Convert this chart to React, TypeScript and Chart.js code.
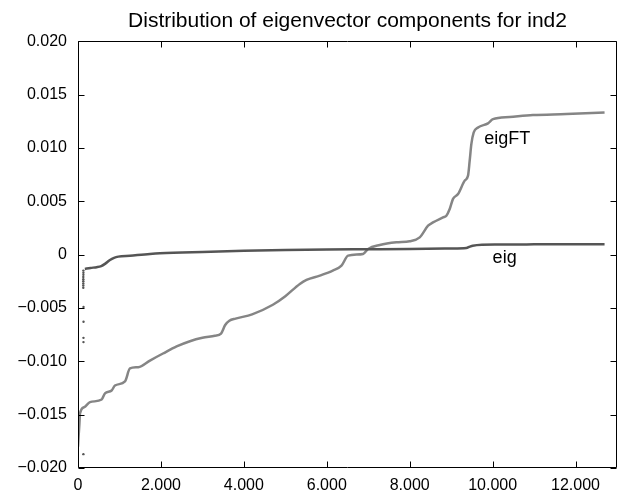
import React, { useEffect, useRef } from "react";
import { Chart, registerables } from "chart.js";

Chart.register(...registerables);

const titleText = "Distribution of eigenvector components for ind2";

const xTickValues = [0, 2000, 4000, 6000, 8000, 10000, 12000];
const xTickLabels = ["0", "2,000", "4,000", "6,000", "8,000", "10,000", "12,000"];
const yTickValues = [-0.02, -0.015, -0.01, -0.005, 0, 0.005, 0.01, 0.015, 0.02];
const yTickLabels = ["\u22120.020", "\u22120.015", "\u22120.010", "\u22120.005", "0", "0.005", "0.010", "0.015", "0.020"];

const eigFTIndex = [0, 15, 35, 48, 150, 289, 571, 651, 812, 892, 1133, 1253, 1454, 1735, 2050, 2378, 2700, 3000, 3300, 3450, 3550, 3650, 3800, 4200, 4700, 5000, 5350, 5511, 5832, 6145, 6355, 6515, 6876, 6997, 7278, 7680, 8000, 8242, 8443, 8563, 8804, 8885, 8965, 9045, 9166, 9327, 9407, 9447, 9488, 9544, 9648, 9889, 10009, 10411, 10973, 11777, 12700];
const eigFTValues = [-0.018, -0.017, -0.0158, -0.0149, -0.0143, -0.01383, -0.01358, -0.013, -0.01273, -0.01227, -0.01189, -0.01067, -0.01055, -0.00993, -0.00927, -0.00861, -0.00812, -0.0078, -0.0076, -0.0074, -0.0066, -0.0062, -0.006, -0.0056, -0.0047, -0.0039, -0.00275, -0.00237, -0.00197, -0.0015, -0.00103, -0.0001, 0.00006, 0.00053, 0.0009, 0.00115, 0.00125, 0.00162, 0.00271, 0.00302, 0.00349, 0.00365, 0.00428, 0.00522, 0.00568, 0.00693, 0.0074, 0.0088, 0.01037, 0.01145, 0.01192, 0.0123, 0.0127, 0.0129, 0.01308, 0.01317, 0.01332];

const eigIndex = [165, 300, 450, 560, 651, 771, 870, 972, 1253, 1735, 1976, 3000, 4000, 5000, 6000, 7000, 8000, 9000, 9367, 9450, 9520, 10170, 11000, 12000, 12700];
const eigValues = [-0.00134, -0.00125, -0.00118, -0.00108, -0.00087, -0.0005, -0.0003, -0.00019, -0.0001, 0.00006, 0.00012, 0.00025, 0.00035, 0.00042, 0.00047, 0.0005, 0.00053, 0.00057, 0.00062, 0.00075, 0.00084, 0.00094, 0.00096, 0.00097, 0.00098];

const eigOutlierIndex = [130, 132, 132, 133, 133, 128, 128, 128, 128, 128, 128, 130, 130, 130];
const eigOutlierValues = [-0.0187, -0.0082, -0.0078, -0.0063, -0.0049, -0.0031, -0.0029, -0.0027, -0.0025, -0.0023, -0.0021, -0.0019, -0.0017, -0.0015];

const seriesLabels = ["eigFT", "eig"];

const FONT = "'Liberation Sans', Arial, Helvetica, sans-serif";

export default function App() {
  const ref = useRef<HTMLCanvasElement>(null);

  useEffect(() => {
    document.body.style.margin = "0";
    const canvas = ref.current;
    if (!canvas) return;

    const framePlugin = {
      id: "frameAndLabels",
      afterDraw(chart: any) {
        const { ctx, chartArea: a, scales } = chart;
        const xs = scales.x;
        const ys = scales.y;
        const L = Math.round(a.left) + 0.5;
        const R = Math.round(a.right) - 0.5;
        const T = Math.round(a.top) + 0.5;
        const B = Math.round(a.bottom) - 0.5;
        const tl = 6;
        ctx.save();
        ctx.strokeStyle = "#000";
        ctx.lineWidth = 1;
        ctx.beginPath();
        ctx.rect(L, T, R - L, B - T);
        xTickValues.forEach((v) => {
          const px = Math.round(xs.getPixelForValue(v)) + 0.5;
          ctx.moveTo(px, B);
          ctx.lineTo(px, B - tl);
          ctx.moveTo(px, T);
          ctx.lineTo(px, T + tl);
        });
        yTickValues.forEach((v) => {
          const py = Math.round(ys.getPixelForValue(v)) + 0.5;
          ctx.moveTo(L, py);
          ctx.lineTo(L + tl, py);
          ctx.moveTo(R, py);
          ctx.lineTo(R - tl, py);
        });
        ctx.stroke();

        ctx.fillStyle = "#000";
        ctx.font = `18px ${FONT}`;
        ctx.textAlign = "left";
        ctx.textBaseline = "middle";
        ctx.fillText(seriesLabels[0], xs.getPixelForValue(9800), ys.getPixelForValue(0.01086));
        ctx.fillText(seriesLabels[1], xs.getPixelForValue(10000), ys.getPixelForValue(-0.0003));
        ctx.restore();
      },
    };

    const chart = new Chart(canvas, {
      type: "line",
      data: {
        datasets: [
          {
            label: seriesLabels[1],
            data: eigIndex.map((x, i) => ({ x, y: eigValues[i] })),
            borderColor: "#555555",
            borderWidth: 2.5,
            pointRadius: 0,
            cubicInterpolationMode: "monotone",
            fill: false,
          },
          {
            label: seriesLabels[1] + " outliers",
            data: eigOutlierIndex.map((x, i) => ({ x, y: eigOutlierValues[i] })),
            showLine: false,
            pointRadius: 1.2,
            pointBackgroundColor: "#555555",
            pointBorderWidth: 0,
            borderColor: "#555555",
          },
          {
            label: seriesLabels[0],
            data: eigFTIndex.map((x, i) => ({ x, y: eigFTValues[i] })),
            borderColor: "#858585",
            borderWidth: 2.5,
            pointRadius: 0,
            cubicInterpolationMode: "monotone",
            fill: false,
          },
        ],
      },
      options: {
        animation: false,
        responsive: false,
        devicePixelRatio: 1,
        layout: { padding: { left: 0, right: 1, top: 0, bottom: 0 } },
        plugins: {
          legend: { display: false },
          tooltip: { enabled: false },
          title: {
            display: true,
            text: titleText,
            fullSize: false,
            color: "#000",
            font: { family: FONT, size: 21, weight: "normal" },
            padding: { top: 9, bottom: 7 },
          },
        },
        scales: {
          x: {
            type: "linear",
            min: 0,
            max: 13000,
            grid: { display: false, drawTicks: false },
            border: { display: false },
            afterBuildTicks: (s: any) => {
              s.ticks = xTickValues.map((v) => ({ value: v }));
            },
            afterFit: (s: any) => {
              s.height = 22;
            },
            ticks: {
              autoSkip: false,
              maxRotation: 0,
              padding: 8,
              color: "#000",
              font: { family: FONT, size: 16 },
              callback: (_v: any, i: number) => xTickLabels[i],
            },
          },
          y: {
            type: "linear",
            min: -0.02,
            max: 0.02,
            grid: { display: false, drawTicks: false },
            border: { display: false },
            afterBuildTicks: (s: any) => {
              s.ticks = yTickValues.map((v) => ({ value: v }));
            },
            afterFit: (s: any) => {
              s.width = 78;
            },
            ticks: {
              autoSkip: false,
              padding: 11,
              color: "#000",
              font: { family: FONT, size: 16 },
              callback: (_v: any, i: number) => yTickLabels[i],
            },
          },
        },
      },
      plugins: [framePlugin],
    });

    return () => chart.destroy();
  }, []);

  return (
    <div style={{ width: 621, height: 490, overflow: "hidden" }}>
      <canvas ref={ref} width={621} height={490} style={{ display: "block" }} />
    </div>
  );
}
